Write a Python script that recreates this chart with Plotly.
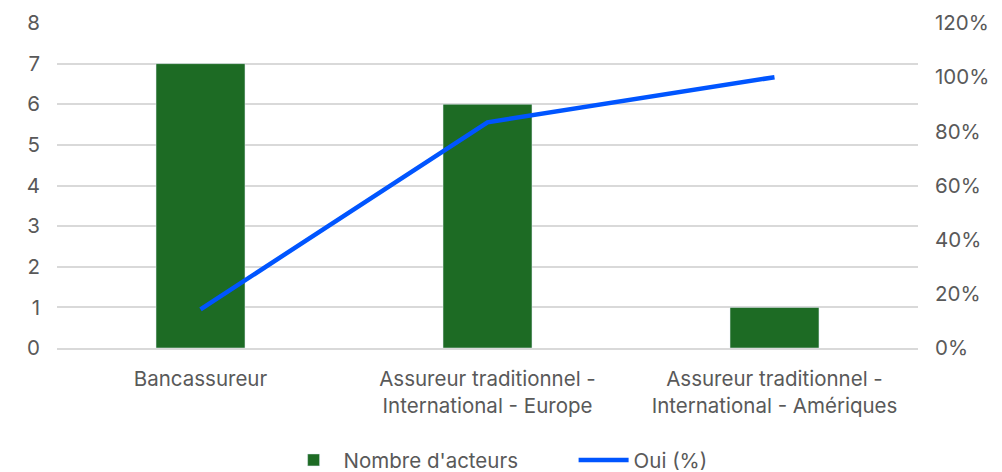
import plotly.graph_objects as go

categories = ["Bancassureur",
              "Assureur traditionnel -<br>International - Europe",
              "Assureur traditionnel -<br>International - Amériques"]
nb_acteurs = [7, 6, 1]
oui_pct = [1 / 7, 5 / 6, 1.0]

font = dict(family="Inter, Noto Sans, sans-serif", size=20.5, color="#595959")

fig = go.Figure()
fig.add_trace(go.Bar(
    x=categories, y=nb_acteurs, name="Nombre d'acteurs",
    marker=dict(color="#1d6b24"), width=0.31,
))
fig.add_trace(go.Scatter(
    x=categories, y=oui_pct, name="Oui (%)", yaxis="y2",
    mode="lines", line=dict(color="#0055ff", width=4.5),
))

# page body adds ~8px offset, so figure is a bit smaller than the window
fig.update_layout(
    width=994, height=464,
    margin=dict(l=49, r=84, t=15, b=124, autoexpand=False),
    paper_bgcolor="white", plot_bgcolor="white",
    font=font,
    xaxis=dict(showline=True, linecolor="#d9d9d9", linewidth=1.5,
               tickfont=font, ticks="", automargin=False, ticklabelstandoff=12),
    yaxis=dict(range=[0, 8], dtick=1, showgrid=True, gridcolor="#d9d9d9",
               gridwidth=1.5, zeroline=False, tickfont=font, automargin=False,
               ticklabelstandoff=16),
    yaxis2=dict(range=[0, 1.2], dtick=0.2, tickformat=".0%", overlaying="y",
                side="right", showgrid=False, zeroline=False, tickfont=font,
                automargin=False, ticklabelstandoff=16),
    legend=dict(orientation="h", x=0.6, xanchor="center", y=-0.345,
                yanchor="middle", font=font, traceorder="normal",
                itemwidth=50, entrywidth=225),
    showlegend=True,
)

fig.write_html("out.html")
